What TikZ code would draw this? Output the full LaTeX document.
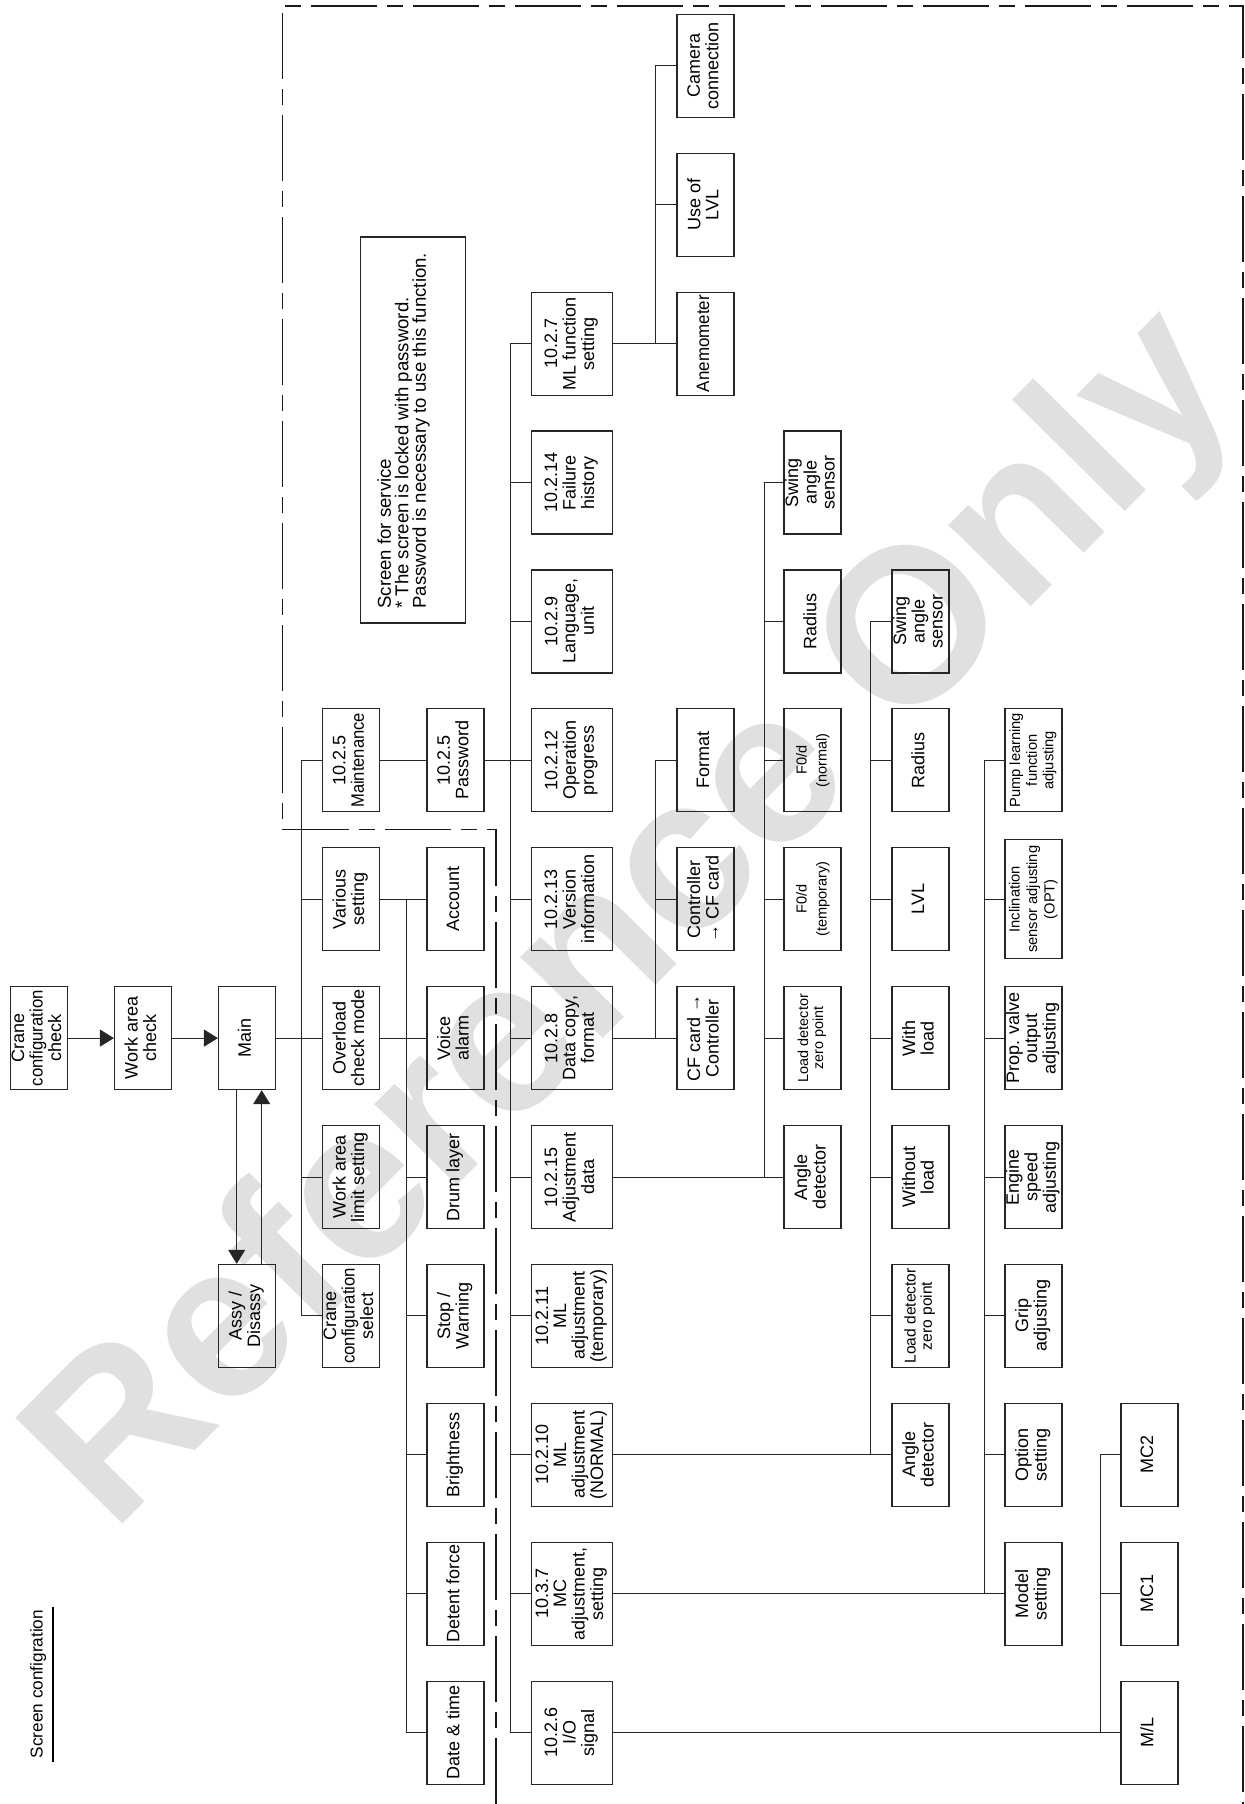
\documentclass[tikz,border=0pt]{standalone}
\usepackage{fontspec}
\setmainfont{Liberation Sans}
\usepackage{graphicx}
\usetikzlibrary{arrows.meta}
\newcommand\rt[1]{\rotatebox{90}{\begin{tabular}{@{}c@{}}#1\end{tabular}}}
\newcommand\cnd[2]{\scalebox{#1}[1]{#2}}
\tikzset{
  bx/.style={draw=black!85, line width=0.6pt, minimum width=28.5pt, minimum height=51.5pt, inner sep=0pt, font=\fontsize{9}{9}\selectfont},
  wbx/.style={bx, minimum width=40.5pt},
  ln/.style={line width=0.5pt, draw=black!85},
  arr/.style={ln, -{Triangle[length=7pt,width=8.5pt]}},
  dashb/.style={line width=0.7pt, draw=black!90, dash pattern=on 33pt off 5pt on 8pt off 5pt},
  smallA/.style={font=\fontsize{7.2}{7.5}\selectfont},
  smallB/.style={font=\fontsize{7.8}{8.2}\selectfont},
  smallF/.style={font=\fontsize{7.25}{10}\selectfont},
  smallP/.style={font=\fontsize{7.35}{8.3}\selectfont},
  smallI/.style={font=\fontsize{7.35}{8.75}\selectfont}
}
\begin{document}
\begin{tikzpicture}[x=0.5pt,y=-0.5pt]
\useasboundingbox (0,0) rectangle (1245,1804);
% watermark
\node[rotate=45.3, anchor=base, inner sep=0pt, text=black!12, font=\fontsize{109.5}{110}\selectfont\bfseries] (wm) at (678,963) {Reference Only};

% title
\node[rotate=90, anchor=base, inner sep=0pt, font=\fontsize{8.6}{10}\selectfont] (title) at (42.7,1684) {Screen configration};
\draw[line width=1pt] ([xshift=5.3pt,yshift=-1.5pt]title.base west) -- ([xshift=5.3pt,yshift=1.5pt]title.base east);

% service frame
\draw[dashb] (496,1804) -- (496,829.5) -- (282.7,829.5) -- (282.7,6) -- (1243,6) -- (1243,1804);

% note
\node[draw=black!85, line width=0.6pt, minimum width=52.5pt, minimum height=193pt, inner sep=0pt] (note) at (413.2,430) {};
\node[rotate=90, anchor=north west, inner sep=0pt, align=left, font=\fontsize{9.3}{8.75}\selectfont] (notetxt) at (377,609) {Screen for service\\* The screen is locked with password.\\Password is necessary to use this function.};

% column 0-2
\node[bx] (cc) at (39,1038.1) {\rt{Crane\\\cnd{0.93}{configuration}\\check}};
\node[bx] (wac) at (143,1038.1) {\rt{Work area\\check}};
\node[bx] (main) at (247,1038.1) {\rt{Main}};
\node[bx] (assy) at (247,1315.9) {\rt{Assy /\\Disassy}};

% column 3
\node[bx] (csel) at (351,1315.9) {\rt{Crane\\\cnd{0.93}{configuration}\\select}};
\node[bx] (wal) at (351,1177) {\rt{Work area\\limit setting}};
\node[bx] (ovl) at (351,1038.1) {\rt{Overload\\check mode}};
\node[bx] (var) at (351,899.2) {\rt{Various\\setting}};
\node[bx] (mnt) at (351,760.3) {\rt{10.2.5\\\cnd{0.92}{Maintenance}}};

% column 4
\node[bx] (dt) at (455.5,1732.6) {\rt{Date \& time}};
\node[bx] (det) at (455.5,1593.7) {\rt{Detent force}};
\node[bx] (bri) at (455.5,1454.8) {\rt{Brightness}};
\node[bx] (stop) at (455.5,1315.9) {\rt{Stop /\\Warning}};
\node[bx] (drum) at (455.5,1177) {\rt{Drum layer}};
\node[bx] (voice) at (455.5,1038.1) {\rt{Voice\\alarm}};
\node[bx] (acc) at (455.5,899.2) {\rt{Account}};
\node[bx] (pwd) at (455.5,760.3) {\rt{10.2.5\\Password}};

% column 5
\node[wbx] (io) at (572,1732.6) {\rt{10.2.6\\I/O\\signal}};
\node[wbx] (mc) at (572,1593.7) {\rt{10.3.7\\MC\\adjustment,\\setting}};
\node[wbx] (mln) at (572,1454.8) {\rt{10.2.10\\ML\\adjustment\\(NORMAL)}};
\node[wbx] (mlt) at (572,1315.9) {\rt{10.2.11\\ML\\adjustment\\(temporary)}};
\node[wbx] (adj) at (572,1177) {\rt{10.2.15\\Adjustment\\data}};
\node[wbx] (dcp) at (572,1038.1) {\rt{10.2.8\\Data copy,\\format}};
\node[wbx] (ver) at (572,899.2) {\rt{10.2.13\\Version\\information}};
\node[wbx] (opp) at (572,760.3) {\rt{10.2.12\\Operation\\progress}};
\node[wbx] (lang) at (572,621.4) {\rt{10.2.9\\Language,\\unit}};
\node[wbx] (fail) at (572,482.5) {\rt{10.2.14\\Failure\\history}};
\node[wbx] (mlf) at (572,343.6) {\rt{10.2.7\\ML function\\setting}};

% column 6
\node[bx] (cf2c) at (705.5,1038.1) {\rt{CF card →\\Controller}};
\node[bx] (c2cf) at (705.5,899.2) {\rt{Controller\\→ CF card}};
\node[bx] (fmt) at (705.5,760.3) {\rt{Format}};
\node[bx] (ane) at (705.5,343.6) {\rt{\cnd{0.94}{Anemometer}}};
\node[bx] (lvluse) at (705.5,204.7) {\rt{Use of\\LVL}};
\node[bx] (cam) at (705.5,65.8) {\rt{Camera\\connection}};

% column 7
\node[bx] (ad1) at (812.5,1177) {\rt{Angle\\detector}};
\node[bx, smallA] (ld1) at (812.5,1038.1) {\rt{Load detector\\zero point}};
\node[bx, smallF] (f0t) at (812.5,899.2) {\rt{F0/d\\(temporary)}};
\node[bx, smallF] (f0n) at (812.5,760.3) {\rt{F0/d\\(normal)}};
\node[bx] (rad1) at (812.5,621.4) {\rt{Radius}};
\node[bx] (sw1) at (812.5,482.5) {\rt{Swing\\angle\\sensor}};

% column 8
\node[bx] (ad2) at (920.5,1454.8) {\rt{Angle\\detector}};
\node[bx, smallB] (ld2) at (920.5,1315.9) {\rt{Load detector\\zero point}};
\node[bx] (wol) at (920.5,1177) {\rt{Without\\load}};
\node[bx] (wl) at (920.5,1038.1) {\rt{With\\load}};
\node[bx] (lvl) at (920.5,899.2) {\rt{LVL}};
\node[bx] (rad2) at (920.5,760.3) {\rt{Radius}};
\node[bx] (sw2) at (920.5,621.4) {\rt{Swing\\angle\\sensor}};

% column 9
\node[bx] (mod) at (1033.5,1593.7) {\rt{Model\\setting}};
\node[bx] (opt) at (1033.5,1454.8) {\rt{Option\\setting}};
\node[bx] (grip) at (1033.5,1315.9) {\rt{Grip\\adjusting}};
\node[bx] (eng) at (1033.5,1177) {\rt{Engine\\speed\\adjusting}};
\node[bx] (prop) at (1033.5,1038.1) {\rt{Prop. valve\\output\\adjusting}};
\node[bx, smallI, minimum height=59.5pt] (incl) at (1033.5,899.2) {\rt{Inclination\\sensor adjusting\\(OPT)}};
\node[bx, smallP] (pump) at (1033.5,760.3) {\rt{Pump learning\\function\\adjusting}};

% column 10
\node[bx] (ml) at (1149.5,1732.6) {\rt{M/L}};
\node[bx] (mc1) at (1149.5,1593.7) {\rt{MC1}};
\node[bx] (mc2) at (1149.5,1454.8) {\rt{MC2}};

% bus x positions
\coordinate (b1) at (301,0);
\coordinate (b2) at (406,0);
\coordinate (b3) at (510,0);
\coordinate (b4) at (655.7,0);
\coordinate (b5) at (764,0);
\coordinate (b6) at (870.7,0);
\coordinate (b7) at (984.3,0);
\coordinate (b8) at (1100,0);

% arrows
\draw[arr] (cc.east) -- (wac.west);
\draw[arr] (wac.east) -- (main.west);
\draw[arr] ([xshift=-5.15pt]main.south) -- ([xshift=-5.15pt]assy.north);
\draw[arr] ([xshift=7.35pt]assy.north) -- ([xshift=7.35pt]main.south);

% main tree
\draw[ln] (main.east) -- (ovl.west);
\draw[ln] (mnt.west) -- (b1 |- mnt.west) -- (b1 |- csel.west) -- (csel.west);
\foreach \n in {var,wal} \draw[ln] (b1 |- \n.west) -- (\n.west);

% various setting
\draw[ln] (ovl.east) -- (voice.west);
\draw[ln] (var.east) -- (acc.west);
\draw[ln] (b2 |- acc.west) -- (b2 |- dt.west) -- (dt.west);
\foreach \n in {det,bri,stop,drum} \draw[ln] (b2 |- \n.west) -- (\n.west);

% maintenance
\draw[ln] (mnt.east) -- (pwd.west);
\draw[ln] (pwd.east) -- (opp.west);
\draw[ln] (mlf.west) -- (b3 |- mlf.west) -- (b3 |- io.west) -- (io.west);
\foreach \n in {fail,lang,ver,dcp,adj,mlt,mln,mc} \draw[ln] (b3 |- \n.west) -- (\n.west);

% ML function setting
\draw[ln] (mlf.east) -- (ane.west);
\draw[ln] (cam.west) -- (b4 |- cam.west) -- (b4 |- ane.west);
\draw[ln] (b4 |- lvluse.west) -- (lvluse.west);

% data copy
\draw[ln] (dcp.east) -- (cf2c.west);
\draw[ln] (fmt.west) -- (b4 |- fmt.west) -- (b4 |- cf2c.west);
\draw[ln] (b4 |- c2cf.west) -- (c2cf.west);

% adjustment data
\draw[ln] (adj.east) -- (ad1.west);
\draw[ln] (sw1.west) -- (b5 |- sw1.west) -- (b5 |- ad1.west);
\foreach \n in {rad1,f0n,f0t,ld1} \draw[ln] (b5 |- \n.west) -- (\n.west);

% ML adjustment normal
\draw[ln] (mln.east) -- (ad2.west);
\draw[ln] (sw2.west) -- (b6 |- sw2.west) -- (b6 |- ad2.west);
\foreach \n in {rad2,lvl,wl,wol,ld2} \draw[ln] (b6 |- \n.west) -- (\n.west);

% MC adjustment
\draw[ln] (mc.east) -- (mod.west);
\draw[ln] (pump.west) -- (b7 |- pump.west) -- (b7 |- mod.west);
\foreach \n in {incl,prop,eng,grip,opt} \draw[ln] (b7 |- \n.west) -- (\n.west);

% I/O signal
\draw[ln] (io.east) -- (ml.west);
\draw[ln] (mc2.west) -- (b8 |- mc2.west) -- (b8 |- ml.west);
\draw[ln] (b8 |- mc1.west) -- (mc1.west);
\end{tikzpicture}
\end{document}
